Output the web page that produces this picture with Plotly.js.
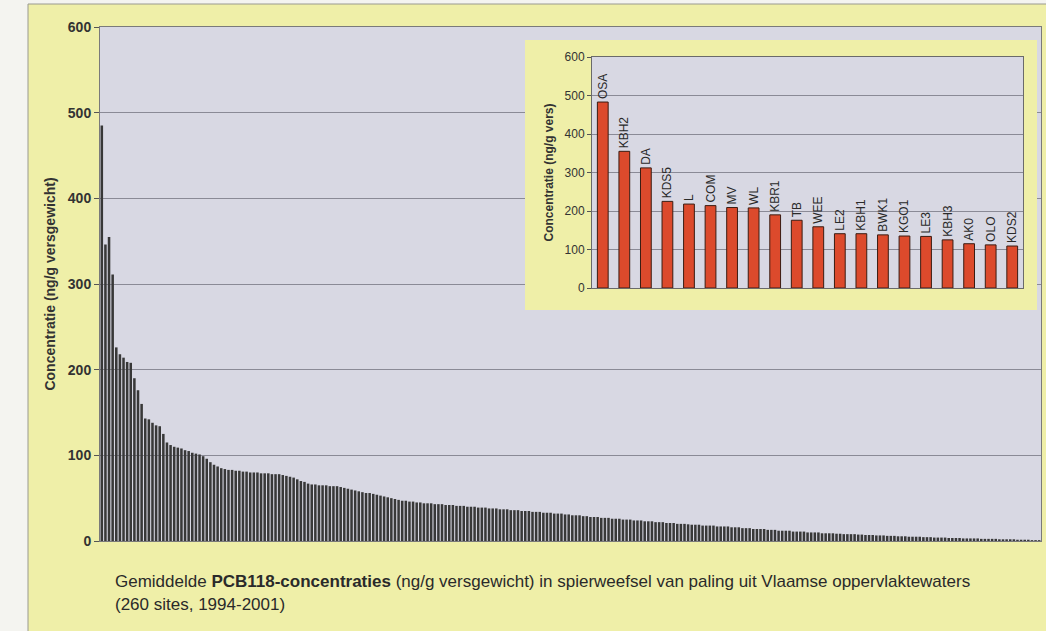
<!DOCTYPE html>
<html>
<head>
<meta charset="utf-8">
<script src="https://cdn.plot.ly/plotly-3.0.1.min.js"></script>
<style>html,body{margin:0;padding:0;background:#f4f4f0;}#chart{width:1046px;height:631px;}</style>
</head>
<body>
<div id="chart"></div>
<script>
// Main chart: mean PCB118 concentration per site (260 sites), sorted roughly descending
const siteValues = [
  485,346,355,311,226,218,214,209,208,190,
  176,160,143,142,138,135,134,125,115,112,
  110,109,108,106,105,103,102,101,99,96,
  92,89,87,85,84,83,83,82,82,81,
  81,80,80,80,79,79,79,78,78,78,
  77,76,75,74,72,70,69,67,66,66,
  65,65,65,64,64,64,63,62,61,60,
  59,58,57,56,56,55,54,53,52,51,
  50,49,48,47,47,46,46,45,45,44,
  44,44,43,43,43,42,42,42,41,41,
  41,40,40,40,39,39,39,38,38,38,
  37,37,37,36,36,36,35,35,35,34,
  34,34,33,33,33,32,32,32,31,31,
  30,30,30,29,29,28,28,28,27,27,
  27,26,26,26,25,25,25,24,24,24,
  23,23,23,22,22,22,21,21,21,20,
  20,20,19.5,19,19,19,18,18,18,18,
  17,17,17,17,16,16,16,15,15,15,
  14,14,14,14,13,13,13,12,12,12,
  12,11,11,11,11,10,10,10,10,9,
  9,9,9,8.5,8.5,8,8,8,8,7.5,
  7.5,7,7,7,6.5,6.5,6.5,6,6,6,
  5.5,5.5,5.5,5,5,5,5,4.5,4.5,4.5,
  4,4,4,4,3.5,3.5,3.5,3.5,3,3,
  3,3,3,2.5,2.5,2.5,2.5,2.5,2,2,
  2,2,2,1.5,1.5,1.5,1.5,1,1,1
];

// Inset: top 20 sites
const topSites = ['OSA','KBH2','DA','KDS5','L','COM','MV','WL','KBR1','TB','WEE','LE2','KBH1','BWK1','KGO1','LE3','KBH3','AK0','OLO','KDS2'];
const topValues = [483,355,312,225,218,214,209,208,190,176,159,141,141,138,135,134,125,115,112,109];

const yTickVals = [0,100,200,300,400,500,600];

const mainTitle = 'Concentratie (ng/g versgewicht)';
const insetTitle = 'Concentratie (ng/g vers)';
const captionLine1 = 'Gemiddelde <b>PCB118-concentraties</b> (ng/g versgewicht) in spierweefsel van paling uit Vlaamse oppervlaktewaters';
const captionLine2 = '(260 sites, 1994-2001)';

const YELLOW = '#efefa8';
const PLOTBG = '#d8d8e3';
const GRID = '#8a8a96';
const FONT = 'Liberation Sans, Arial, sans-serif';

// pixel helpers for paper coordinates (plot area: x 100..1041, y 27..541)
const L = 100, R = 5, T = 27, B = 90, W = 1046, H = 631;
const PW = W - L - R, PH = H - T - B;
const px = v => (v - L) / PW;
const py = v => (H - B - v) / PH;

const traces = [
  {
    type: 'bar',
    y: siteValues,
    xaxis: 'x', yaxis: 'y',
    marker: {color: '#383838', line: {width: 0}},
    hoverinfo: 'y',
    showlegend: false
  },
  {
    type: 'scatter', x: [], y: [],
    xaxis: 'x2', yaxis: 'y2',
    hoverinfo: 'skip', showlegend: false
  },
  {
    type: 'bar',
    x: topSites,
    y: topValues,
    xaxis: 'x3', yaxis: 'y3',
    width: 0.5,
    marker: {color: '#dc4a2c', line: {color: '#3a1c12', width: 1}},
    text: topSites,
    textposition: 'outside',
    textangle: -90,
    constraintext: 'none',
    cliponaxis: false,
    textfont: {family: FONT, size: 12, color: '#2a2a2a'},
    showlegend: false
  }
];

const layout = {
  width: W, height: H,
  margin: {l: L, r: R, t: T, b: B},
  paper_bgcolor: YELLOW,
  plot_bgcolor: PLOTBG,
  bargap: 0.3,
  showlegend: false,
  font: {family: FONT, color: '#333'},
  xaxis: {
    domain: [0, 1],
    range: [-0.5, siteValues.length - 0.5],
    showticklabels: false, ticks: '',
    showgrid: false, zeroline: false,
    showline: true, linecolor: '#7a7a7a', linewidth: 1, mirror: true
  },
  yaxis: {
    domain: [0, 1],
    range: [0, 600],
    tickvals: yTickVals,
    ticks: 'outside', ticklen: 5, tickcolor: '#555',
    tickfont: {family: FONT, size: 14, color: '#333', weight: 'bold'},
    showgrid: true, gridcolor: GRID, gridwidth: 1,
    zeroline: false,
    showline: true, linecolor: '#7a7a7a', linewidth: 1, mirror: true,
    title: {text: mainTitle, standoff: 8, font: {family: FONT, size: 14, color: '#333', weight: 'bold'}},
    automargin: false
  },
  xaxis2: {
    domain: [px(525), px(1037)], anchor: 'y2', range: [0, 1],
    visible: false, showgrid: false, zeroline: false, fixedrange: true
  },
  yaxis2: {
    domain: [py(310), py(40)], anchor: 'x2', range: [0, 1],
    visible: false, showgrid: false, zeroline: false, fixedrange: true
  },
  xaxis3: {
    domain: [px(592), px(1023)], anchor: 'y3',
    type: 'category',
    range: [-0.5, topSites.length - 0.5],
    showticklabels: false, ticks: '',
    showgrid: false, zeroline: false,
    showline: true, linecolor: '#6a6a6a', linewidth: 1, mirror: true
  },
  yaxis3: {
    domain: [py(288), py(57)], anchor: 'x3',
    range: [0, 600],
    tickvals: yTickVals,
    ticks: 'outside', ticklen: 4, tickcolor: '#555',
    tickfont: {family: FONT, size: 12, color: '#333'},
    showgrid: true, gridcolor: GRID, gridwidth: 1,
    zeroline: false,
    showline: true, linecolor: '#6a6a6a', linewidth: 1, mirror: true,
    title: {text: insetTitle, standoff: 8, font: {family: FONT, size: 12, color: '#333', weight: 'bold'}},
    automargin: false
  },
  shapes: [
    // yellow panel of the inset
    {type: 'rect', xref: 'x2', yref: 'y2', x0: 0, x1: 1, y0: 0, y1: 1,
     fillcolor: YELLOW, line: {width: 0}, layer: 'below'},
    // off-white page margins outside the framed figure
    {type: 'rect', xref: 'paper', yref: 'paper', x0: px(-5), x1: px(28), y0: py(640), y1: py(-5),
     fillcolor: '#f4f4f0', line: {width: 0}, layer: 'above'},
    {type: 'rect', xref: 'paper', yref: 'paper', x0: px(-5), x1: px(1050), y0: py(4), y1: py(-5),
     fillcolor: '#f4f4f0', line: {width: 0}, layer: 'above'},
    // frame border
    {type: 'rect', xref: 'paper', yref: 'paper', x0: px(28), x1: px(1060), y0: py(650), y1: py(4),
     fillcolor: 'rgba(0,0,0,0)', line: {color: '#9a9a90', width: 1}, layer: 'above'}
  ],
  annotations: [
    {xref: 'paper', yref: 'paper', x: px(113), y: py(581), xanchor: 'left', yanchor: 'middle',
     text: captionLine1, showarrow: false, align: 'left',
     font: {family: FONT, size: 17, color: '#2a2a2a'}},
    {xref: 'paper', yref: 'paper', x: px(113), y: py(604), xanchor: 'left', yanchor: 'middle',
     text: captionLine2, showarrow: false, align: 'left',
     font: {family: FONT, size: 17, color: '#2a2a2a'}}
  ]
};

Plotly.newPlot('chart', traces, layout, {displayModeBar: false, staticPlot: true});
</script>
</body>
</html>
